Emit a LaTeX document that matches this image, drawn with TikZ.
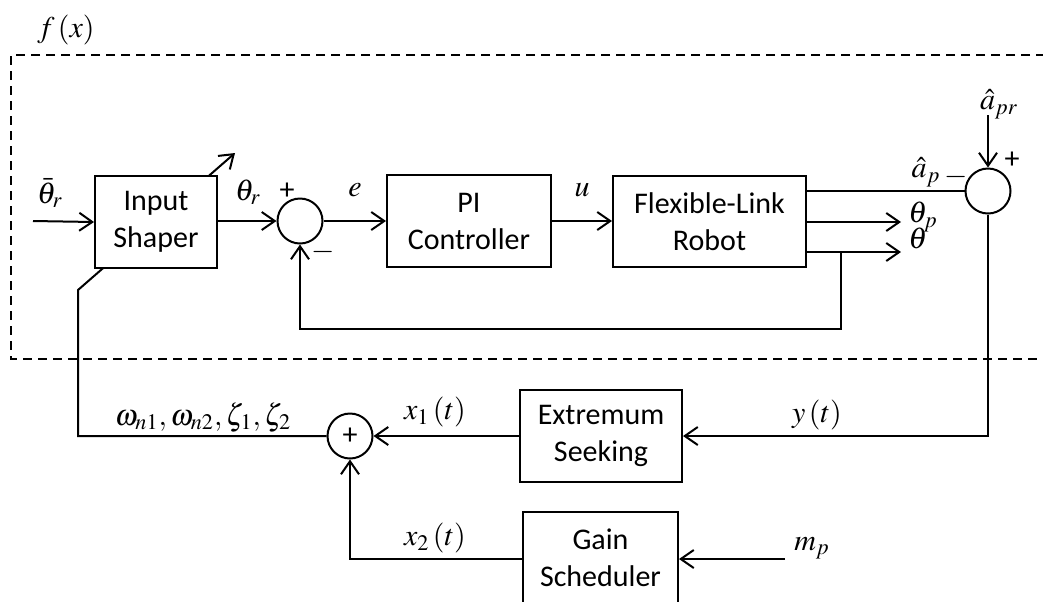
\documentclass[tikz,border=0pt]{standalone}
\usepackage{mathptmx}
\usepackage[no-math]{fontspec}
\setmainfont{Carlito}
\usetikzlibrary{arrows.meta,backgrounds}

\tikzset{
  px/.style={x=0.5pt,y=-0.5pt},
  wire/.style={line width=1pt},
  arr/.style={wire,-{Straight Barb[length=6.5pt,width=9pt,line width=1pt]}},
  blk/.style={draw,line width=1pt,fill=white,align=center,inner sep=0pt,
              font=\fontsize{15}{18.5}\selectfont},
  sumc/.style={draw,circle,line width=1pt,fill=white,minimum size=22.5pt,inner sep=0pt},
  lbl/.style={inner sep=0pt,font=\fontsize{15}{17}\selectfont},
  sgn/.style={inner sep=0pt,font=\fontsize{15}{17}\selectfont},
  frame/.style={line width=1pt,dash pattern=on 4.5pt off 3pt},
}

\begin{document}
\begin{tikzpicture}[px]
\useasboundingbox (0,0) rectangle (1043,601);
\clip (0,0) rectangle (1043,601);

% dashed frame around f(x)
\draw[frame] (1060,55) -- (11,55) -- (11,359) -- (1060,359);
\node[lbl] (fx) at (66,30) {$f\left(x\right)$};

% blocks
\node[blk,minimum width=61pt,minimum height=46pt] (shaper) at (156,222) {Input\\Shaper};
\node[blk,minimum width=82pt,minimum height=46pt] (pi) at (469,221) {PI\\Controller};
\node[blk,minimum width=96.5pt,minimum height=45.5pt] (robot) at (709.5,221.5) {Flexible-Link\\Robot};
\node[blk,minimum width=81pt,minimum height=46pt] (es) at (601,436) {Extremum\\Seeking};
\node[blk,minimum width=77.5pt,minimum height=46pt] (gs) at (600.5,558) {Gain\\Scheduler};

% summing junctions
\node[sumc] (s1) at (300,221) {};
\node[sumc] (s2) at (988,191) {};
\node[sumc] (s3) at (350,436) {};
\node[sgn] (s3p) at (s3) {+};

% free ends
\coordinate (in) at (33,221);
\coordinate (o2) at (901,222);
\coordinate (o3) at (901,252);
\coordinate (fb) at (841,252);
\coordinate (fbb) at (841,329);
\coordinate (apr) at (988,115);
\coordinate (mp) at (785,559);
\coordinate (bend) at (78,290);
\coordinate (tip) at (235,153);

% forward path
\draw[arr] (in) -- (shaper.west);
\draw[arr] (shaper.east |- s1.west) -- (s1.west);
\draw[arr] (s1.east) -- (pi.west |- s1.east);
\draw[arr] (pi.east) -- (robot.west |- pi.east);
\draw[wire] (robot.east |- s2.west) -- (s2.west);
\draw[arr] (robot.east |- o2) -- (o2);
\draw[arr] (robot.east |- o3) -- (o3);
\draw[arr] (fb) -- (fbb) -| (s1.south);
\draw[arr] (apr) -- (s2.north);

% tuning loop
\draw[arr] (s2.south) |- (es.east);
\draw[arr] (es.west) -- (s3.east);
\draw[arr] (mp) -- (gs.east |- mp);
\draw[arr] (gs.west |- mp) -| (s3.south);
\begin{pgfonlayer}{background}
\draw[arr] (s3.west) -| (bend) -- (tip);
\end{pgfonlayer}

% signal labels
\node[lbl] (lthb) at (50,193) {$\bar{\theta}_r$};
\node[lbl] (lthr) at (248,192) {$\theta_r$};
\node[sgn] (p1) at (287,191) {+};
\node[sgn] (m1) at (323,252) {$-$};
\node[lbl] (le) at (355,190) {$e$};
\node[lbl] (lu) at (582,190) {$u$};
\node[lbl] (lap) at (926,172) {$\hat{a}_p$};
\node[sgn] (m2) at (956,177) {$-$};
\node[lbl] (lapr) at (999,104) {$\hat{a}_{pr}$};
\node[sgn] (p2) at (1012,160) {+};
\node[lbl,anchor=west] (lthp) at (908,217) {$\theta_p$};
\node[lbl,anchor=west] (lth) at (908,238) {$\theta$};
\node[lbl] (ly) at (817,415) {$y\left(t\right)$};
\node[lbl] (lx1) at (435,412) {$x_1\left(t\right)$};
\node[lbl] (lx2) at (435,538) {$x_2\left(t\right)$};
\node[lbl] (lw) at (203,417) {$\omega_{n1},\omega_{n2},\zeta_1,\zeta_2$};
\node[lbl] (lmp) at (812,548) {$m_p$};
\end{tikzpicture}
\end{document}
